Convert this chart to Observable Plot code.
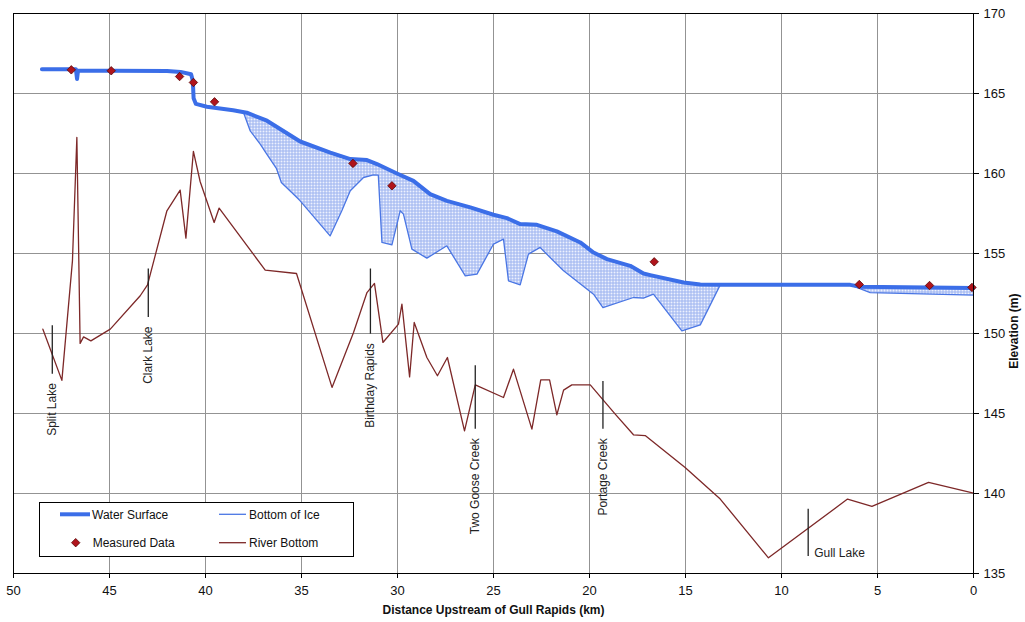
<!DOCTYPE html>
<html>
<head>
<meta charset="utf-8">
<script src="https://cdn.jsdelivr.net/npm/d3@7"></script>
<script src="https://cdn.jsdelivr.net/npm/@observablehq/plot@0.6"></script>
<style>
  html, body { margin: 0; padding: 0; background: #fff; }
  #chart { width: 1025px; height: 622px; }
</style>
</head>
<body>
<div id="chart"></div>
<script>
// ---------- data ----------
const xTicks = [50, 45, 40, 35, 30, 25, 20, 15, 10, 5, 0];
const yTicks = [135, 140, 145, 150, 155, 160, 165, 170];

const xLabel = "Distance Upstream of Gull Rapids (km)";
const yLabel = "Elevation (m)";
const legendLabels = ["Water Surface", "Bottom of Ice", "Measured Data", "River Bottom"];

// Water surface profile
const waterKm   = [48.52, 46.75, 46.69, 46.64, 44.9, 42.0, 41.3, 40.75, 40.66, 40.62, 40.5, 39.93, 38.56, 37.85, 36.8, 35.07, 33.5, 32.46, 31.59, 31.07, 30.03, 29.17, 28.30, 27.43, 26.21, 25.0, 24.30, 23.61, 22.74, 21.70, 20.48, 19.79, 19.09, 17.88, 17.19, 16.84, 15.10, 14.23, 13.19, 6.42, 5.9, 0];
const waterElev = [166.52, 166.52, 165.9, 166.42, 166.42, 166.4, 166.35, 166.2, 165.8, 164.7, 164.35, 164.17, 163.95, 163.8, 163.3, 162.0, 161.31, 160.9, 160.84, 160.59, 160.0, 159.54, 158.71, 158.29, 157.88, 157.42, 157.21, 156.84, 156.79, 156.38, 155.69, 155.06, 154.65, 154.23, 153.75, 153.65, 153.19, 153.06, 153.04, 153.04, 152.92, 152.84];

// Bottom of ice profile
const iceKm   = [38.02, 37.67, 37.15, 36.8, 36.3, 36.05, 35.24, 35.07, 33.51, 32.9, 32.46, 31.77, 31.25, 31.0, 30.81, 30.29, 29.86, 29.69, 29.25, 28.47, 27.43, 26.47, 25.86, 25.0, 24.48, 24.22, 23.61, 23.18, 22.57, 22.05, 21.35, 19.79, 19.3, 17.71, 17.19, 16.67, 15.19, 14.23, 13.19, 6.42, 5.38, 0];
const iceElev = [163.81, 162.66, 161.84, 161.2, 160.3, 159.44, 158.5, 158.29, 156.1, 157.67, 158.92, 159.75, 159.92, 159.9, 155.69, 155.54, 157.67, 157.46, 155.27, 154.71, 155.48, 153.6, 153.71, 155.59, 155.9, 153.29, 153.04, 154.96, 155.38, 154.75, 153.92, 152.46, 151.62, 152.25, 152.21, 152.46, 150.17, 150.54, 153.04, 153.04, 152.56, 152.4];

// River bottom profile
const bedKm   = [48.47, 47.48, 46.93, 46.70, 46.53, 46.35, 45.97, 44.96, 43.40, 43.02, 42.01, 41.32, 41.02, 40.63, 40.28, 39.55, 39.29, 36.89, 35.26, 33.41, 32.29, 31.59, 31.2, 30.76, 29.95, 29.77, 29.37, 29.13, 28.47, 27.92, 27.40, 26.51, 25.95, 24.48, 23.96, 23.0, 22.54, 22.08, 21.70, 21.35, 20.92, 19.96, 18.66, 17.71, 17.10, 15.02, 13.19, 10.68, 6.56, 5.29, 2.34, 0];
const bedElev = [150.27, 147.07, 154.54, 162.25, 149.38, 149.79, 149.54, 150.27, 152.36, 153.04, 157.67, 158.96, 155.96, 161.38, 159.5, 156.94, 157.84, 153.96, 153.75, 146.63, 150.06, 152.56, 153.13, 149.44, 150.59, 151.84, 147.29, 150.69, 148.5, 147.36, 148.5, 143.92, 146.79, 146.0, 147.77, 144.02, 147.1, 147.1, 144.92, 146.46, 146.79, 146.79, 144.96, 143.67, 143.62, 141.63, 139.65, 135.98, 139.65, 139.19, 140.69, 140.03];

// Measured water levels
const measuredKm   = [46.99, 44.91, 41.35, 40.63, 39.53, 32.32, 30.29, 16.63, 5.95, 2.29, 0.08];
const measuredElev = [166.48, 166.42, 166.06, 165.69, 164.48, 160.63, 159.23, 154.48, 153.06, 153.0, 152.88];

// Landmarks along the river
const landmarkNames  = ["Split Lake", "Clark Lake", "Birthday Rapids", "Two Goose Creek", "Portage Creek", "Gull Lake"];
const landmarkKm     = [47.98, 42.98, 31.41, 25.95, 19.30, 8.61];
const landmarkTop    = [150.48, 154.03, 154.03, 147.98, 147.0, 139.02];
const landmarkBottom = [147.46, 151.0, 149.96, 144.02, 144.02, 136.06];

// ---------- tables ----------
const water = waterKm.map((k, i) => ({km: k, elev: waterElev[i]}));
const ice = iceKm.map((k, i) => ({km: k, elev: iceElev[i]}));
const bed = bedKm.map((k, i) => ({km: k, elev: bedElev[i]}));
const measured = measuredKm.map((k, i) => ({km: k, elev: measuredElev[i]}));
const landmarks = landmarkNames.map((n, i) => ({name: n, km: landmarkKm[i], top: landmarkTop[i], bottom: landmarkBottom[i]}));
// ice cover polygon: bottom of ice (upstream -> downstream) then water surface back
const icePolygon = ice.concat(water.filter(d => d.km <= ice[0].km).reverse());

const blue = "#3b6ee8";
const iceBlue = "#4a76e4";
const maroon = "#7d2828";
const font = "'Liberation Sans', Arial, Helvetica, sans-serif";

const plot = Plot.plot({
  width: 1025,
  height: 622,
  marginLeft: 13,
  marginRight: 52,
  marginTop: 13,
  marginBottom: 49,
  style: {fontFamily: font, fontSize: "13px", background: "#fff", color: "#000", overflow: "visible"},
  x: {domain: [50, 0]},
  y: {domain: [135, 170]},
  marks: [
    Plot.gridX(xTicks, {stroke: "#939393", strokeOpacity: 1}),
    Plot.gridY(yTicks, {stroke: "#939393", strokeOpacity: 1}),
    Plot.line(icePolygon, {x: "km", y: "elev", fill: "url(#iceHatch)", stroke: "none", curve: "linear-closed"}),
    Plot.line(ice, {x: "km", y: "elev", stroke: iceBlue, strokeWidth: 1.3}),
    Plot.line(bed, {x: "km", y: "elev", stroke: maroon, strokeWidth: 1.3}),
    Plot.line(water, {x: "km", y: "elev", stroke: blue, strokeWidth: 4, strokeLinejoin: "round", strokeLinecap: "round"}),
    Plot.ruleX(landmarks, {x: "km", y1: "top", y2: "bottom", stroke: "#222", strokeWidth: 1.3}),
    Plot.text(landmarks.filter(d => d.name !== "Gull Lake"), {x: "km", y: "bottom", text: "name", rotate: -90, textAnchor: "end", dy: 9, fontSize: 12, fill: "#222"}),
    Plot.text(landmarks.filter(d => d.name === "Gull Lake"), {x: "km", y: "bottom", text: "name", textAnchor: "start", dx: 6, dy: -3, fontSize: 12, fill: "#222"}),
    Plot.dot(measured, {x: "km", y: "elev", symbol: "diamond2", r: 3.8, fill: "#b0141c", stroke: "#5a0808", strokeWidth: 0.8}),
    Plot.frame({stroke: "#000"}),
    Plot.axisX(xTicks, {anchor: "bottom", tickSize: 5, tickPadding: 7, label: null, fontSize: 13, fill: "#111"}),
    Plot.axisY(yTicks, {anchor: "right", tickSize: 5, tickPadding: 5, label: null, fontSize: 13, fill: "#111"}),
    Plot.text([xLabel], {text: d => d, frameAnchor: "bottom", dy: 40, fontWeight: "bold", fontSize: 12, fill: "#111"}),
    Plot.text([yLabel], {text: d => d, frameAnchor: "right", dx: 40.5, rotate: -90, fontWeight: "bold", fontSize: 12, fill: "#111"})
  ]
});

// hatch pattern for the ice cover
const svg = d3.select(plot);
const defs = svg.insert("defs", ":first-child");
const pat = defs.append("pattern").attr("id", "iceHatch").attr("patternUnits", "userSpaceOnUse")
  .attr("width", 3).attr("height", 3);
pat.append("rect").attr("width", 3).attr("height", 3).attr("fill", "#edf1fd");
pat.append("path").attr("d", "M0,0.5H3M0.5,0V3").attr("stroke", "#9db3f0").attr("stroke-width", 1);

// legend box inside the plot area
const lg = svg.append("g").attr("font-family", font).attr("font-size", 12).attr("fill", "#111").attr("text-anchor", "start");
lg.append("rect").attr("x", 39.5).attr("y", 502.5).attr("width", 314).attr("height", 54)
  .attr("fill", "#fff").attr("stroke", "#000").attr("stroke-width", 1);
const rowY = [514.3, 542.7];
lg.append("line").attr("x1", 60).attr("x2", 90).attr("y1", rowY[0]).attr("y2", rowY[0]).attr("stroke", blue).attr("stroke-width", 4);
lg.append("line").attr("x1", 219).attr("x2", 246).attr("y1", rowY[0]).attr("y2", rowY[0]).attr("stroke", iceBlue).attr("stroke-width", 1.3);
lg.append("path").attr("d", d3.symbol(d3.symbolDiamond2, Math.PI * 3.8 * 3.8)()).attr("transform", `translate(75.7,${rowY[1]})`)
  .attr("fill", "#b0141c").attr("stroke", "#5a0808").attr("stroke-width", 0.8);
lg.append("line").attr("x1", 219).attr("x2", 246).attr("y1", rowY[1]).attr("y2", rowY[1]).attr("stroke", maroon).attr("stroke-width", 1.3);
const textPos = [[92, rowY[0]], [249, rowY[0]], [92.7, rowY[1]], [249, rowY[1]]];
legendLabels.forEach((t, i) => {
  lg.append("text").attr("x", textPos[i][0]).attr("y", textPos[i][1]).attr("dy", "0.35em").attr("text-anchor", "start").text(t);
});

document.getElementById("chart").appendChild(plot);
</script>
</body>
</html>
